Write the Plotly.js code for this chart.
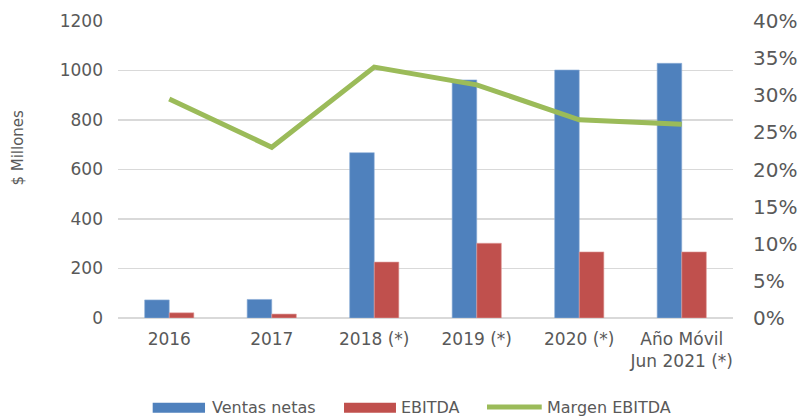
<!DOCTYPE html>
<html>
<head>
<meta charset="utf-8">
<script src="https://cdn.plot.ly/plotly-3.0.1.min.js"></script>
<style>html,body{margin:0;padding:0;background:#fff;}#chart{width:802px;height:416px;}</style>
</head>
<body>
<div id="chart"></div>
<script>
const categories = ["2016", "2017", "2018 (*)", "2019 (*)", "2020 (*)", "Año Móvil<br>Jun 2021 (*)"];
const ventasNetas = [73, 75, 668, 962, 1002, 1029];
const ebitda = [21, 16, 226, 302, 267, 267];
const margenEbitda = [0.295, 0.230, 0.338, 0.314, 0.267, 0.261];
const seriesNames = ["Ventas netas", "EBITDA", "Margen EBITDA"];
const seriesColors = ['#4F81BD', '#C0504D', '#9BBB59'];

const txt = '#595959';
const font = 'DejaVu Sans, sans-serif';

const data = [
  {type: 'bar', x: categories, y: ventasNetas, name: seriesNames[0],
   marker: {color: seriesColors[0], line: {color: '#8FB0D8', width: 0.6}}},
  {type: 'bar', x: categories, y: ebitda, name: seriesNames[1],
   marker: {color: seriesColors[1], line: {color: '#E0A09E', width: 0.6}}},
  {type: 'scatter', mode: 'lines', x: categories, y: margenEbitda, name: seriesNames[2],
   yaxis: 'y2', line: {color: seriesColors[2], width: 5}}
];

// manual legend (wide swatches like the original), in paper coordinates
const legY = -0.2997;
const shapes = [
  {type: 'rect', xref: 'paper', yref: 'paper', x0: 0.0564, x1: 0.1415, y0: -0.2852, y1: -0.3189,
   fillcolor: seriesColors[0], line: {width: 0}},
  {type: 'rect', xref: 'paper', yref: 'paper', x0: 0.3675, x1: 0.452, y0: -0.2852, y1: -0.3189,
   fillcolor: seriesColors[1], line: {width: 0}},
  {type: 'line', xref: 'paper', yref: 'paper', x0: 0.6, x1: 0.689, y0: legY, y1: legY,
   line: {color: seriesColors[2], width: 5}}
];
const legFont = {size: 16, color: txt, family: font};
const annotations = [
  {text: '$ Millones', xref: 'paper', yref: 'paper', x: -0.163, y: 0.573,
   xanchor: 'center', yanchor: 'middle',
   textangle: -90, showarrow: false, font: {size: 15, color: txt, family: font}},
  {text: seriesNames[0], xref: 'paper', yref: 'paper', x: 0.1496, y: legY, xanchor: 'left', yanchor: 'middle', showarrow: false, font: legFont},
  {text: seriesNames[1], xref: 'paper', yref: 'paper', x: 0.457, y: legY, xanchor: 'left', yanchor: 'middle', showarrow: false, font: legFont},
  {text: seriesNames[2], xref: 'paper', yref: 'paper', x: 0.694, y: legY, xanchor: 'left', yanchor: 'middle', showarrow: false, font: legFont}
];

const layout = {
  width: 802, height: 416,
  margin: {l: 118, r: 69, t: 21, b: 98},
  paper_bgcolor: '#fff', plot_bgcolor: '#fff',
  font: {family: font, color: txt, size: 17},
  barmode: 'group', bargap: 0.52, bargroupgap: 0,
  showlegend: false,
  xaxis: {type: 'category', showgrid: false, showline: false, ticks: '',
          tickfont: {size: 17, color: txt}, zeroline: false, ticklabelstandoff: 9},
  yaxis: {range: [0, 1200], dtick: 200, showgrid: true, gridcolor: '#D9D9D9', gridwidth: 1.5,
          zeroline: true, zerolinecolor: '#D9D9D9', zerolinewidth: 1.5, showline: false,
          tickfont: {size: 17, color: txt}, ticks: '', tickformat: 'd', ticklabelstandoff: 14},
  yaxis2: {range: [0, 0.4], dtick: 0.05, overlaying: 'y', side: 'right', showgrid: false,
           zeroline: false, showline: false, tickformat: '.0%', ticks: '',
           tickfont: {size: 20, color: txt}, ticklabelstandoff: 19},
  shapes: shapes,
  annotations: annotations
};

Plotly.newPlot('chart', data, layout, {displayModeBar: false, staticPlot: true});
</script>
</body>
</html>
